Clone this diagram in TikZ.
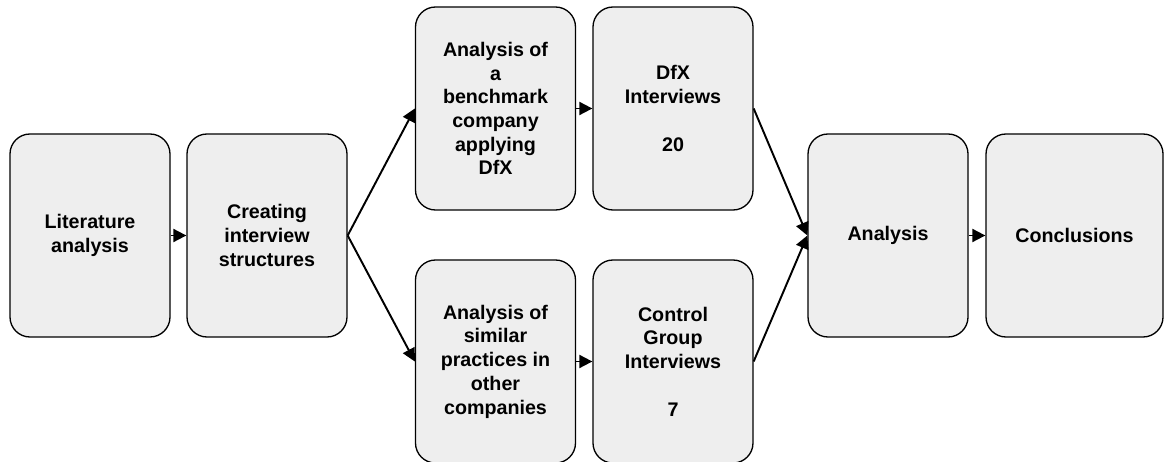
\documentclass[tikz,border=0pt]{standalone}
\usepackage{fontspec}
\setmainfont{Liberation Sans}
\usetikzlibrary{arrows.meta}
\definecolor{boxgray}{RGB}{238,238,238}
\tikzset{
  stage/.style={draw, fill=boxgray, rounded corners=0.4cm, line width=0.75pt,
    minimum width=3.2cm, minimum height=4.06cm, align=center,
    font=\fontsize{11.2pt}{13.5pt}\selectfont\bfseries},
  flow/.style={-{Triangle[length=0.26cm,width=0.26cm]}, line width=1.1pt}
}
\begin{document}
\begin{tikzpicture}
    \useasboundingbox (0,0) rectangle (23.3,9.24);
    % stages
    \node[stage] (lit) at (1.8,4.53) {Literature\\analysis};
    \node[stage] (create) at (5.34,4.53) {Creating\\interview\\structures};
    \node[stage] (bench) at (9.91,7.07) {Analysis of\\a\\benchmark\\company\\applying\\DfX};
    \node[stage] (dfx) at (13.46,7.07) {DfX\\Interviews\\~\\20};
    \node[stage] (similar) at (9.91,2.01) {Analysis of\\similar\\practices in\\other\\companies};
    \node[stage] (control) at (13.46,2.01) {Control\\Group\\Interviews\\~\\7};
    \node[stage] (analysis) at (17.76,4.53) {Analysis};
    \node[stage, minimum width=3.54cm] (concl) at (21.49,4.53) {Conclusions};
    % arrows
    \draw [flow] (lit) -- (create);
    \draw [flow] (create.east) -- (bench.west);
    \draw [flow] (create.east) -- (similar.west);
    \draw [flow] (bench) -- (dfx);
    \draw [flow] (similar) -- (control);
    \draw [flow] (dfx.east) -- (analysis.west);
    \draw [flow] (control.east) -- (analysis.west);
    \draw [flow] (analysis) -- (concl);
\end{tikzpicture}
\end{document}
